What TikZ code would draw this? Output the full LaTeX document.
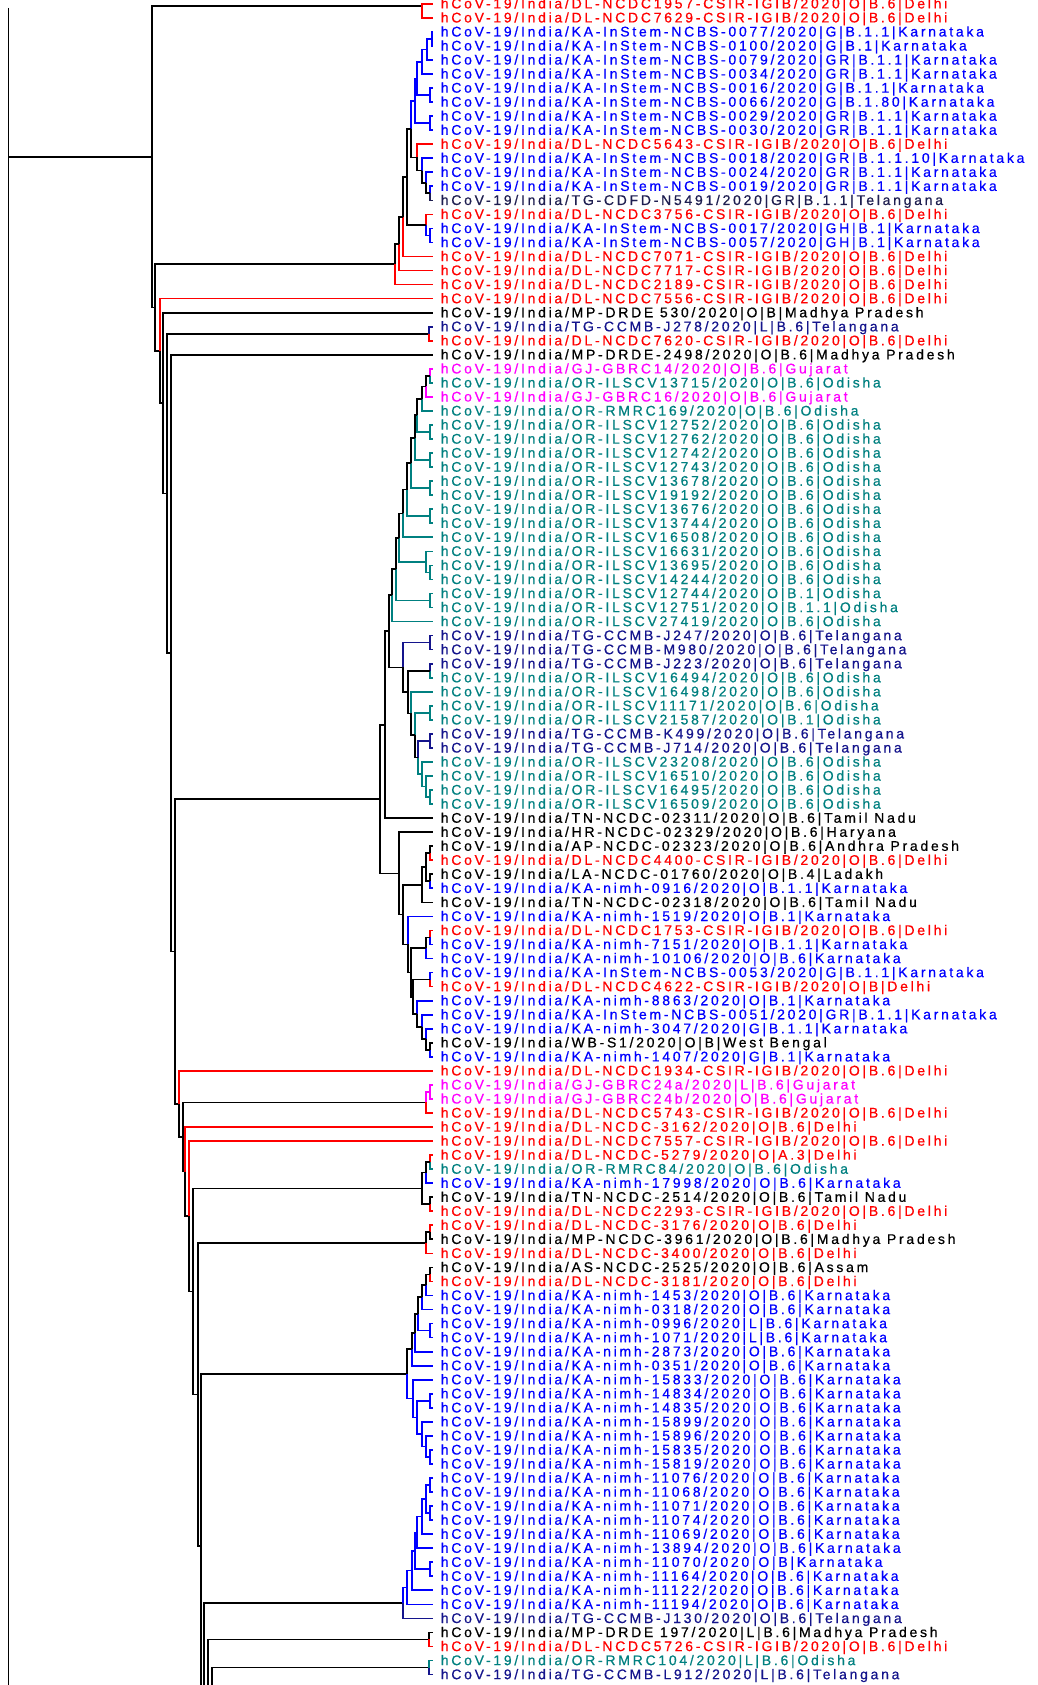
\documentclass[tikz,border=0pt]{standalone}
\usepackage{fontspec}
\usetikzlibrary{calc}
\newfontfamily\labfont[LetterSpace=19.5,FakeBold=0.6]{Liberation Sans}
\definecolor{tred}{RGB}{255,0,0}
\definecolor{tblue}{RGB}{0,0,255}
\definecolor{tnavy}{RGB}{20,20,140}
\definecolor{tnavyd}{RGB}{30,30,80}
\definecolor{tmag}{RGB}{255,0,255}
\definecolor{tteal}{RGB}{0,128,128}
\tikzset{br/.style={line width=1.7pt},
  lab/.style={font=\labfont\fontsize{14}{14}\selectfont, inner sep=0pt, anchor=base west}}
\newcommand\leaf[3]{%
  \coordinate (L#1) at (433.3,{3.8+14.04*#1});
  \node[lab,text=#2] (T#1) at (440.6,{8.4+14.04*#1}) {hCoV-19/India/#3};}
\newcommand\inode[4]{\path let \p1=(#3),\p2=(#4) in (#2pt,{0.5*\y1+0.5*\y2}) coordinate (#1);}
\newcommand\ed[3]{\draw[br,#1] (#2) |- (#3);}
\begin{document}
\begin{tikzpicture}[x=1pt,y=-1pt]
\fill[white] (0,0) rectangle (1037,1685);
\useasboundingbox (0,0) rectangle (1037,1685);
\clip (0,0) rectangle (1037,1685);
% ---------- leaves ----------
\leaf{0}{tred}{DL-NCDC1957-CSIR-IGIB/2020|O|B.6|Delhi}
\leaf{1}{tred}{DL-NCDC7629-CSIR-IGIB/2020|O|B.6|Delhi}
\leaf{2}{tblue}{KA-InStem-NCBS-0077/2020|G|B.1.1|Karnataka}
\leaf{3}{tblue}{KA-InStem-NCBS-0100/2020|G|B.1|Karnataka}
\leaf{4}{tblue}{KA-InStem-NCBS-0079/2020|GR|B.1.1|Karnataka}
\leaf{5}{tblue}{KA-InStem-NCBS-0034/2020|GR|B.1.1|Karnataka}
\leaf{6}{tblue}{KA-InStem-NCBS-0016/2020|G|B.1.1|Karnataka}
\leaf{7}{tblue}{KA-InStem-NCBS-0066/2020|G|B.1.80|Karnataka}
\leaf{8}{tblue}{KA-InStem-NCBS-0029/2020|GR|B.1.1|Karnataka}
\leaf{9}{tblue}{KA-InStem-NCBS-0030/2020|GR|B.1.1|Karnataka}
\leaf{10}{tred}{DL-NCDC5643-CSIR-IGIB/2020|O|B.6|Delhi}
\leaf{11}{tblue}{KA-InStem-NCBS-0018/2020|GR|B.1.1.10|Karnataka}
\leaf{12}{tblue}{KA-InStem-NCBS-0024/2020|GR|B.1.1|Karnataka}
\leaf{13}{tblue}{KA-InStem-NCBS-0019/2020|GR|B.1.1|Karnataka}
\leaf{14}{tnavyd}{TG-CDFD-N5491/2020|GR|B.1.1|Telangana}
\leaf{15}{tred}{DL-NCDC3756-CSIR-IGIB/2020|O|B.6|Delhi}
\leaf{16}{tblue}{KA-InStem-NCBS-0017/2020|GH|B.1|Karnataka}
\leaf{17}{tblue}{KA-InStem-NCBS-0057/2020|GH|B.1|Karnataka}
\leaf{18}{tred}{DL-NCDC7071-CSIR-IGIB/2020|O|B.6|Delhi}
\leaf{19}{tred}{DL-NCDC7717-CSIR-IGIB/2020|O|B.6|Delhi}
\leaf{20}{tred}{DL-NCDC2189-CSIR-IGIB/2020|O|B.6|Delhi}
\leaf{21}{tred}{DL-NCDC7556-CSIR-IGIB/2020|O|B.6|Delhi}
\leaf{22}{black}{MP-DRDE 530/2020|O|B|Madhya Pradesh}
\leaf{23}{tnavy}{TG-CCMB-J278/2020|L|B.6|Telangana}
\leaf{24}{tred}{DL-NCDC7620-CSIR-IGIB/2020|O|B.6|Delhi}
\leaf{25}{black}{MP-DRDE-2498/2020|O|B.6|Madhya Pradesh}
\leaf{26}{tmag}{GJ-GBRC14/2020|O|B.6|Gujarat}
\leaf{27}{tteal}{OR-ILSCV13715/2020|O|B.6|Odisha}
\leaf{28}{tmag}{GJ-GBRC16/2020|O|B.6|Gujarat}
\leaf{29}{tteal}{OR-RMRC169/2020|O|B.6|Odisha}
\leaf{30}{tteal}{OR-ILSCV12752/2020|O|B.6|Odisha}
\leaf{31}{tteal}{OR-ILSCV12762/2020|O|B.6|Odisha}
\leaf{32}{tteal}{OR-ILSCV12742/2020|O|B.6|Odisha}
\leaf{33}{tteal}{OR-ILSCV12743/2020|O|B.6|Odisha}
\leaf{34}{tteal}{OR-ILSCV13678/2020|O|B.6|Odisha}
\leaf{35}{tteal}{OR-ILSCV19192/2020|O|B.6|Odisha}
\leaf{36}{tteal}{OR-ILSCV13676/2020|O|B.6|Odisha}
\leaf{37}{tteal}{OR-ILSCV13744/2020|O|B.6|Odisha}
\leaf{38}{tteal}{OR-ILSCV16508/2020|O|B.6|Odisha}
\leaf{39}{tteal}{OR-ILSCV16631/2020|O|B.6|Odisha}
\leaf{40}{tteal}{OR-ILSCV13695/2020|O|B.6|Odisha}
\leaf{41}{tteal}{OR-ILSCV14244/2020|O|B.6|Odisha}
\leaf{42}{tteal}{OR-ILSCV12744/2020|O|B.1|Odisha}
\leaf{43}{tteal}{OR-ILSCV12751/2020|O|B.1.1|Odisha}
\leaf{44}{tteal}{OR-ILSCV27419/2020|O|B.6|Odisha}
\leaf{45}{tnavy}{TG-CCMB-J247/2020|O|B.6|Telangana}
\leaf{46}{tnavy}{TG-CCMB-M980/2020|O|B.6|Telangana}
\leaf{47}{tnavy}{TG-CCMB-J223/2020|O|B.6|Telangana}
\leaf{48}{tteal}{OR-ILSCV16494/2020|O|B.6|Odisha}
\leaf{49}{tteal}{OR-ILSCV16498/2020|O|B.6|Odisha}
\leaf{50}{tteal}{OR-ILSCV11171/2020|O|B.6|Odisha}
\leaf{51}{tteal}{OR-ILSCV21587/2020|O|B.1|Odisha}
\leaf{52}{tnavy}{TG-CCMB-K499/2020|O|B.6|Telangana}
\leaf{53}{tnavy}{TG-CCMB-J714/2020|O|B.6|Telangana}
\leaf{54}{tteal}{OR-ILSCV23208/2020|O|B.6|Odisha}
\leaf{55}{tteal}{OR-ILSCV16510/2020|O|B.6|Odisha}
\leaf{56}{tteal}{OR-ILSCV16495/2020|O|B.6|Odisha}
\leaf{57}{tteal}{OR-ILSCV16509/2020|O|B.6|Odisha}
\leaf{58}{black}{TN-NCDC-02311/2020|O|B.6|Tamil Nadu}
\leaf{59}{black}{HR-NCDC-02329/2020|O|B.6|Haryana}
\leaf{60}{black}{AP-NCDC-02323/2020|O|B.6|Andhra Pradesh}
\leaf{61}{tred}{DL-NCDC4400-CSIR-IGIB/2020|O|B.6|Delhi}
\leaf{62}{black}{LA-NCDC-01760/2020|O|B.4|Ladakh}
\leaf{63}{tblue}{KA-nimh-0916/2020|O|B.1.1|Karnataka}
\leaf{64}{black}{TN-NCDC-02318/2020|O|B.6|Tamil Nadu}
\leaf{65}{tblue}{KA-nimh-1519/2020|O|B.1|Karnataka}
\leaf{66}{tred}{DL-NCDC1753-CSIR-IGIB/2020|O|B.6|Delhi}
\leaf{67}{tblue}{KA-nimh-7151/2020|O|B.1.1|Karnataka}
\leaf{68}{tblue}{KA-nimh-10106/2020|O|B.6|Karnataka}
\leaf{69}{tblue}{KA-InStem-NCBS-0053/2020|G|B.1.1|Karnataka}
\leaf{70}{tred}{DL-NCDC4622-CSIR-IGIB/2020|O|B|Delhi}
\leaf{71}{tblue}{KA-nimh-8863/2020|O|B.1|Karnataka}
\leaf{72}{tblue}{KA-InStem-NCBS-0051/2020|GR|B.1.1|Karnataka}
\leaf{73}{tblue}{KA-nimh-3047/2020|G|B.1.1|Karnataka}
\leaf{74}{black}{WB-S1/2020|O|B|West Bengal}
\leaf{75}{tblue}{KA-nimh-1407/2020|G|B.1|Karnataka}
\leaf{76}{tred}{DL-NCDC1934-CSIR-IGIB/2020|O|B.6|Delhi}
\leaf{77}{tmag}{GJ-GBRC24a/2020|L|B.6|Gujarat}
\leaf{78}{tmag}{GJ-GBRC24b/2020|O|B.6|Gujarat}
\leaf{79}{tred}{DL-NCDC5743-CSIR-IGIB/2020|O|B.6|Delhi}
\leaf{80}{tred}{DL-NCDC-3162/2020|O|B.6|Delhi}
\leaf{81}{tred}{DL-NCDC7557-CSIR-IGIB/2020|O|B.6|Delhi}
\leaf{82}{tred}{DL-NCDC-5279/2020|O|A.3|Delhi}
\leaf{83}{tteal}{OR-RMRC84/2020|O|B.6|Odisha}
\leaf{84}{tblue}{KA-nimh-17998/2020|O|B.6|Karnataka}
\leaf{85}{black}{TN-NCDC-2514/2020|O|B.6|Tamil Nadu}
\leaf{86}{tred}{DL-NCDC2293-CSIR-IGIB/2020|O|B.6|Delhi}
\leaf{87}{tred}{DL-NCDC-3176/2020|O|B.6|Delhi}
\leaf{88}{black}{MP-NCDC-3961/2020|O|B.6|Madhya Pradesh}
\leaf{89}{tred}{DL-NCDC-3400/2020|O|B.6|Delhi}
\leaf{90}{black}{AS-NCDC-2525/2020|O|B.6|Assam}
\leaf{91}{tred}{DL-NCDC-3181/2020|O|B.6|Delhi}
\leaf{92}{tblue}{KA-nimh-1453/2020|O|B.6|Karnataka}
\leaf{93}{tblue}{KA-nimh-0318/2020|O|B.6|Karnataka}
\leaf{94}{tblue}{KA-nimh-0996/2020|L|B.6|Karnataka}
\leaf{95}{tblue}{KA-nimh-1071/2020|L|B.6|Karnataka}
\leaf{96}{tblue}{KA-nimh-2873/2020|O|B.6|Karnataka}
\leaf{97}{tblue}{KA-nimh-0351/2020|O|B.6|Karnataka}
\leaf{98}{tblue}{KA-nimh-15833/2020|O|B.6|Karnataka}
\leaf{99}{tblue}{KA-nimh-14834/2020|O|B.6|Karnataka}
\leaf{100}{tblue}{KA-nimh-14835/2020|O|B.6|Karnataka}
\leaf{101}{tblue}{KA-nimh-15899/2020|O|B.6|Karnataka}
\leaf{102}{tblue}{KA-nimh-15896/2020|O|B.6|Karnataka}
\leaf{103}{tblue}{KA-nimh-15835/2020|O|B.6|Karnataka}
\leaf{104}{tblue}{KA-nimh-15819/2020|O|B.6|Karnataka}
\leaf{105}{tblue}{KA-nimh-11076/2020|O|B.6|Karnataka}
\leaf{106}{tblue}{KA-nimh-11068/2020|O|B.6|Karnataka}
\leaf{107}{tblue}{KA-nimh-11071/2020|O|B.6|Karnataka}
\leaf{108}{tblue}{KA-nimh-11074/2020|O|B.6|Karnataka}
\leaf{109}{tblue}{KA-nimh-11069/2020|O|B.6|Karnataka}
\leaf{110}{tblue}{KA-nimh-13894/2020|O|B.6|Karnataka}
\leaf{111}{tblue}{KA-nimh-11070/2020|O|B|Karnataka}
\leaf{112}{tblue}{KA-nimh-11164/2020|O|B.6|Karnataka}
\leaf{113}{tblue}{KA-nimh-11122/2020|O|B.6|Karnataka}
\leaf{114}{tblue}{KA-nimh-11194/2020|O|B.6|Karnataka}
\leaf{115}{tnavy}{TG-CCMB-J130/2020|O|B.6|Telangana}
\leaf{116}{black}{MP-DRDE 197/2020|L|B.6|Madhya Pradesh}
\leaf{117}{tred}{DL-NCDC5726-CSIR-IGIB/2020|O|B.6|Delhi}
\leaf{118}{tteal}{OR-RMRC104/2020|L|B.6|Odisha}
\leaf{119}{tnavy}{TG-CCMB-L912/2020|L|B.6|Telangana}
% ---------- internal nodes ----------
\coordinate (P0) at (421.7,6);
% clade leaves 2-20
\inode{n1}{431.7}{L2}{L3}
\inode{n2}{426.7}{n1}{L4}
\inode{n3}{422.3}{n2}{L5}
\inode{n4}{430}{L6}{L7}
\inode{n5}{417.3}{n3}{n4}
\inode{n6}{430}{L8}{L9}
\inode{n7}{415}{n5}{n6}
\inode{V13}{430}{L13}{L14}
\inode{W12}{426}{L12}{V13}
\inode{Z11}{421.7}{L11}{W12}
\inode{Y10}{417.3}{L10}{Z11}
\inode{X9}{411}{n7}{Y10}
\inode{Q15c}{430}{L16}{L17}
\inode{Q15}{426}{L15}{Q15c}
\inode{R1}{406.7}{X9}{Q15}
\inode{S1}{403.3}{R1}{L18}
\inode{T1}{399.3}{S1}{L19}
\inode{U}{395}{T1}{L20}
\inode{c2324}{429.3}{L23}{L24}
% clade leaves 26-75
\inode{c2627}{430}{L26}{L27}
\inode{g1}{426}{c2627}{L28}
\inode{g2}{422.3}{g1}{L29}
\inode{c3031}{430}{L30}{L31}
\inode{g3}{417.3}{g2}{c3031}
\inode{c3233}{430}{L32}{L33}
\inode{g4}{415}{g3}{c3233}
\inode{c3435}{430}{L34}{L35}
\inode{g5}{411}{g4}{c3435}
\inode{c3637}{430}{L36}{L37}
\inode{g6}{406.7}{g5}{c3637}
\inode{g7}{403.3}{g6}{L38}
\inode{c4041}{430}{L40}{L41}
\inode{g9}{426}{L39}{c4041}
\inode{g8}{399.3}{g7}{g9}
\inode{c4243}{430}{L42}{L43}
\inode{g10}{395.7}{g8}{c4243}
\inode{g11}{392.3}{g10}{L44}
\inode{c4546}{430}{L45}{L46}
\inode{c4748}{430}{L47}{L48}
\inode{c5051}{430}{L50}{L51}
\inode{c5253}{430}{L52}{L53}
\inode{c5657}{430}{L56}{L57}
\inode{x1}{426}{L55}{c5657}
\inode{x2}{422.3}{L54}{x1}
\inode{x3}{418.3}{c5253}{x2}
\inode{x4}{415}{c5051}{x3}
\inode{x5}{411}{L49}{x4}
\inode{x6}{407.7}{c4748}{x5}
\inode{Xc}{403.3}{c4546}{x6}
\inode{g12}{389}{g11}{Xc}
\inode{g13}{385}{g12}{L58}
\inode{c6061}{430}{L60}{L61}
\inode{c6263}{430}{L62}{L63}
\inode{z1}{426}{c6061}{c6263}
\inode{z2}{422.3}{z1}{L64}
\inode{c6667}{430}{L66}{L67}
\inode{z3}{426}{c6667}{L68}
\inode{c6970}{430}{L69}{L70}
\inode{c7475}{430}{L74}{L75}
\inode{z4}{426}{L73}{c7475}
\inode{z5}{422.3}{L72}{z4}
\inode{z6}{417.3}{L71}{z5}
\inode{z7}{413.3}{c6970}{z6}
\inode{z8}{411}{z3}{z7}
\inode{z9}{407.7}{L65}{z8}
\inode{z10}{403.3}{z2}{z9}
\inode{Zc}{399.3}{L59}{z10}
\inode{G1}{380}{g13}{Zc}
% lower clades
\inode{c7778}{430}{L77}{L78}
\inode{k79}{426}{c7778}{L79}
\inode{c8283}{430}{L82}{L83}
\inode{m1}{426}{c8283}{L84}
\inode{c8586}{430}{L85}{L86}
\inode{m2}{421.7}{m1}{c8586}
\inode{c8788}{430}{L87}{L88}
\inode{n89}{426}{c8788}{L89}
\inode{c9091}{430}{L90}{L91}
\inode{o1}{426}{c9091}{L92}
\inode{o2}{422.3}{o1}{L93}
\inode{c9495}{430}{L94}{L95}
\inode{o3}{418.3}{o2}{c9495}
\inode{o4}{415}{o3}{L96}
\inode{o5}{411.7}{o4}{L97}
\inode{c99100}{430}{L99}{L100}
\inode{c103104}{430}{L103}{L104}
\inode{p1}{426}{L102}{c103104}
\inode{p2}{422.3}{L101}{p1}
\inode{p3}{417.3}{c99100}{p2}
\inode{P1}{413.3}{L98}{p3}
\inode{o6}{406.7}{o5}{P1}
\inode{c105106}{430}{L105}{L106}
\inode{c107108}{430}{L107}{L108}
\inode{q1}{426}{c105106}{c107108}
\inode{q2}{422.3}{q1}{L109}
\inode{q3}{417.3}{q2}{L110}
\inode{c111112}{430}{L111}{L112}
\inode{q4}{415}{q3}{c111112}
\inode{q5}{411.7}{q4}{L113}
\inode{q6}{406.7}{q5}{L114}
\inode{Q1}{403.3}{q6}{L115}
\inode{c116117}{429.3}{L116}{L117}
\inode{c118119}{429.3}{L118}{L119}
% backbone
\coordinate (Send) at (215,2385);
\inode{bR}{211.7}{c118119}{Send}
\inode{bQ}{208.3}{c116117}{bR}
\inode{bP}{204}{Q1}{bQ}
\inode{bO}{200.7}{o6}{bP}
\inode{bN}{197.7}{n89}{bO}
\inode{bM}{193.3}{m2}{bN}
\inode{bK}{189.3}{L81}{bM}
\inode{bJ}{185}{L80}{bK}
\inode{bI}{183.3}{k79}{bJ}
\inode{bH}{179}{L76}{bI}
\inode{bG}{175}{G1}{bH}
\inode{bF}{170.7}{L25}{bG}
\inode{bE}{167.3}{c2324}{bF}
\inode{bD}{163.3}{L22}{bE}
\inode{bC}{160}{L21}{bD}
\inode{bB}{155}{U}{bC}
\inode{bA}{151.7}{P0}{bB}
\coordinate (RT) at (8.6,8);
\coordinate (RB) at (8.6,1700);
\coordinate (Rt) at (bA -| RT);
% ---------- edges ----------
\draw[br] (RT) -- (RB);
\draw[br] (Rt) -- (bA);
\ed{black}{bA}{P0}\ed{black}{bA}{bB}
\ed{black}{bB}{U}\ed{black}{bB}{bC}
\ed{tred}{bC}{L21}\ed{black}{bC}{bD}
\ed{black}{bD}{L22}\ed{black}{bD}{bE}
\ed{black}{bE}{c2324}\ed{black}{bE}{bF}
\ed{black}{bF}{L25}\ed{black}{bF}{bG}
\ed{black}{bG}{G1}\ed{black}{bG}{bH}
\ed{tred}{bH}{L76}\ed{black}{bH}{bI}
\ed{black}{bI}{k79}\ed{black}{bI}{bJ}
\ed{tred}{bJ}{L80}\ed{black}{bJ}{bK}
\ed{tred}{bK}{L81}\ed{black}{bK}{bM}
\ed{black}{bM}{m2}\ed{black}{bM}{bN}
\ed{black}{bN}{n89}\ed{black}{bN}{bO}
\ed{black}{bO}{o6}\ed{black}{bO}{bP}
\ed{black}{bP}{Q1}\ed{black}{bP}{bQ}
\ed{black}{bQ}{c116117}\ed{black}{bQ}{bR}
\ed{black}{bR}{c118119}\ed{black}{bR}{Send}
% top
\ed{tred}{P0}{L0}\ed{tred}{P0}{L1}
\ed{tblue}{n1}{L2}\ed{tblue}{n1}{L3}
\ed{tblue}{n2}{n1}\ed{tblue}{n2}{L4}
\ed{tblue}{n3}{n2}\ed{tblue}{n3}{L5}
\ed{tblue}{n4}{L6}\ed{tblue}{n4}{L7}
\ed{tblue}{n5}{n3}\ed{tblue}{n5}{n4}
\ed{tblue}{n6}{L8}\ed{tblue}{n6}{L9}
\ed{tblue}{n7}{n5}\ed{tblue}{n7}{n6}
\ed{tblue}{V13}{L13}\ed{tnavyd}{V13}{L14}
\ed{tblue}{W12}{L12}\ed{black}{W12}{V13}
\ed{tblue}{Z11}{L11}\ed{black}{Z11}{W12}
\ed{tred}{Y10}{L10}\ed{black}{Y10}{Z11}
\ed{tblue}{X9}{n7}\ed{black}{X9}{Y10}
\ed{tblue}{Q15c}{L16}\ed{tblue}{Q15c}{L17}
\ed{tred}{Q15}{L15}\ed{tblue}{Q15}{Q15c}
\ed{black}{R1}{X9}\ed{black}{R1}{Q15}
\ed{black}{S1}{R1}\ed{tred}{S1}{L18}
\ed{black}{T1}{S1}\ed{tred}{T1}{L19}
\ed{black}{U}{T1}\ed{tred}{U}{L20}
\ed{tnavy}{c2324}{L23}\ed{tred}{c2324}{L24}
% clade 26-75
\ed{tmag}{c2627}{L26}\ed{tteal}{c2627}{L27}
\ed{black}{g1}{c2627}\ed{tmag}{g1}{L28}
\ed{black}{g2}{g1}\ed{tteal}{g2}{L29}
\ed{tteal}{c3031}{L30}\ed{tteal}{c3031}{L31}
\ed{black}{g3}{g2}\ed{tteal}{g3}{c3031}
\ed{tteal}{c3233}{L32}\ed{tteal}{c3233}{L33}
\ed{black}{g4}{g3}\ed{tteal}{g4}{c3233}
\ed{tteal}{c3435}{L34}\ed{tteal}{c3435}{L35}
\ed{black}{g5}{g4}\ed{tteal}{g5}{c3435}
\ed{tteal}{c3637}{L36}\ed{tteal}{c3637}{L37}
\ed{black}{g6}{g5}\ed{tteal}{g6}{c3637}
\ed{black}{g7}{g6}\ed{tteal}{g7}{L38}
\ed{tteal}{c4041}{L40}\ed{tteal}{c4041}{L41}
\ed{tteal}{g9}{L39}\ed{tteal}{g9}{c4041}
\ed{black}{g8}{g7}\ed{tteal}{g8}{g9}
\ed{tteal}{c4243}{L42}\ed{tteal}{c4243}{L43}
\ed{black}{g10}{g8}\ed{tteal}{g10}{c4243}
\ed{black}{g11}{g10}\ed{tteal}{g11}{L44}
\ed{tnavy}{c4546}{L45}\ed{tnavy}{c4546}{L46}
\ed{tnavy}{c4748}{L47}\ed{tteal}{c4748}{L48}
\ed{tteal}{c5051}{L50}\ed{tteal}{c5051}{L51}
\ed{tnavy}{c5253}{L52}\ed{tnavy}{c5253}{L53}
\ed{tteal}{c5657}{L56}\ed{tteal}{c5657}{L57}
\ed{tteal}{x1}{L55}\ed{tteal}{x1}{c5657}
\ed{tteal}{x2}{L54}\ed{tteal}{x2}{x1}
\ed{tnavy}{x3}{c5253}\ed{tteal}{x3}{x2}
\ed{tteal}{x4}{c5051}\ed{black}{x4}{x3}
\ed{tteal}{x5}{L49}\ed{black}{x5}{x4}
\ed{black}{x6}{c4748}\ed{black}{x6}{x5}
\ed{tnavy}{Xc}{c4546}\ed{black}{Xc}{x6}
\ed{black}{g12}{g11}\ed{black}{g12}{Xc}
\ed{black}{g13}{g12}\ed{black}{g13}{L58}
\ed{black}{c6061}{L60}\ed{tred}{c6061}{L61}
\ed{black}{c6263}{L62}\ed{tblue}{c6263}{L63}
\ed{black}{z1}{c6061}\ed{black}{z1}{c6263}
\ed{black}{z2}{z1}\ed{black}{z2}{L64}
\ed{tred}{c6667}{L66}\ed{tblue}{c6667}{L67}
\ed{black}{z3}{c6667}\ed{tblue}{z3}{L68}
\ed{tblue}{c6970}{L69}\ed{tred}{c6970}{L70}
\ed{black}{c7475}{L74}\ed{tblue}{c7475}{L75}
\ed{tblue}{z4}{L73}\ed{black}{z4}{c7475}
\ed{tblue}{z5}{L72}\ed{black}{z5}{z4}
\ed{tblue}{z6}{L71}\ed{black}{z6}{z5}
\ed{black}{z7}{c6970}\ed{black}{z7}{z6}
\ed{black}{z8}{z3}\ed{black}{z8}{z7}
\ed{tblue}{z9}{L65}\ed{black}{z9}{z8}
\ed{black}{z10}{z2}\ed{black}{z10}{z9}
\ed{black}{Zc}{L59}\ed{black}{Zc}{z10}
\ed{black}{G1}{g13}\ed{black}{G1}{Zc}
% lower clades
\ed{tmag}{c7778}{L77}\ed{tmag}{c7778}{L78}
\ed{tmag}{k79}{c7778}\ed{tred}{k79}{L79}
\ed{tred}{c8283}{L82}\ed{tteal}{c8283}{L83}
\ed{black}{m1}{c8283}\ed{tblue}{m1}{L84}
\ed{black}{c8586}{L85}\ed{tred}{c8586}{L86}
\ed{black}{m2}{m1}\ed{black}{m2}{c8586}
\ed{tred}{c8788}{L87}\ed{black}{c8788}{L88}
\ed{black}{n89}{c8788}\ed{tred}{n89}{L89}
\ed{black}{c9091}{L90}\ed{tred}{c9091}{L91}
\ed{black}{o1}{c9091}\ed{tblue}{o1}{L92}
\ed{black}{o2}{o1}\ed{tblue}{o2}{L93}
\ed{tblue}{c9495}{L94}\ed{tblue}{c9495}{L95}
\ed{black}{o3}{o2}\ed{tblue}{o3}{c9495}
\ed{black}{o4}{o3}\ed{tblue}{o4}{L96}
\ed{black}{o5}{o4}\ed{tblue}{o5}{L97}
\ed{tblue}{c99100}{L99}\ed{tblue}{c99100}{L100}
\ed{tblue}{c103104}{L103}\ed{tblue}{c103104}{L104}
\ed{tblue}{p1}{L102}\ed{tblue}{p1}{c103104}
\ed{tblue}{p2}{L101}\ed{tblue}{p2}{p1}
\ed{tblue}{p3}{c99100}\ed{tblue}{p3}{p2}
\ed{tblue}{P1}{L98}\ed{tblue}{P1}{p3}
\ed{black}{o6}{o5}\ed{tblue}{o6}{P1}
\ed{tblue}{c105106}{L105}\ed{tblue}{c105106}{L106}
\ed{tblue}{c107108}{L107}\ed{tblue}{c107108}{L108}
\ed{tblue}{q1}{c105106}\ed{tblue}{q1}{c107108}
\ed{tblue}{q2}{q1}\ed{tblue}{q2}{L109}
\ed{tblue}{q3}{q2}\ed{tblue}{q3}{L110}
\ed{tblue}{c111112}{L111}\ed{tblue}{c111112}{L112}
\ed{tblue}{q4}{q3}\ed{tblue}{q4}{c111112}
\ed{tblue}{q5}{q4}\ed{tblue}{q5}{L113}
\ed{tblue}{q6}{q5}\ed{tblue}{q6}{L114}
\ed{tblue}{Q1}{q6}\ed{tnavy}{Q1}{L115}
\ed{black}{c116117}{L116}\ed{tred}{c116117}{L117}
\ed{tteal}{c118119}{L118}\ed{tnavy}{c118119}{L119}
\end{tikzpicture}
\end{document}
